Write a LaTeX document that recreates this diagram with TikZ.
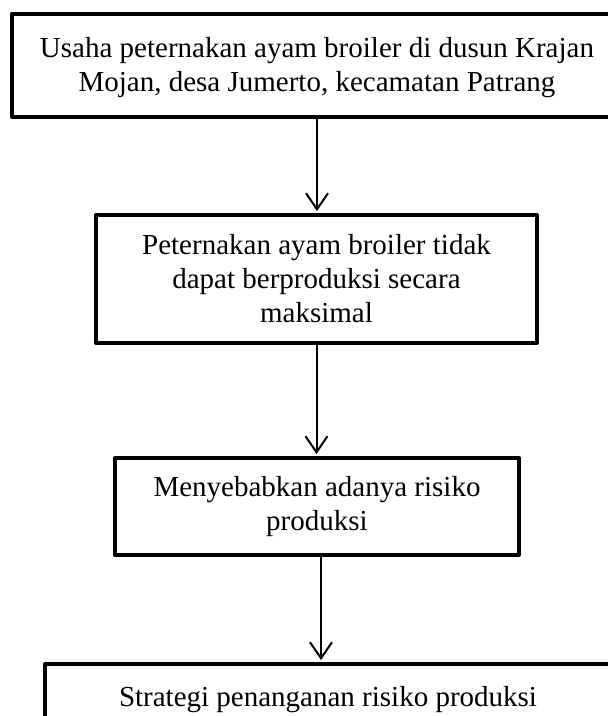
\documentclass[tikz,border=0pt]{standalone}
\usepackage{fontspec}
\setmainfont{Liberation Serif}
\usetikzlibrary{arrows.meta}
\tikzset{
  box/.style={draw=black, line width=4pt, line join=round, align=center,
    inner sep=0pt, font=\fontsize{29}{34}\selectfont},
  arr/.style={draw=black, line width=2pt, -{Straight Barb[length=16pt,width=22pt]}, shorten >=2pt}
}
\begin{document}
\begin{tikzpicture}[x=1pt,y=-1pt]
\useasboundingbox (0,0) rectangle (608,716);
\clip (0,0) rectangle (608,716);
\fill[white] (0,0) rectangle (608,716);
\node[box, minimum width=610pt, minimum height=103pt] (b1) at (317,65)
  {\rule{0pt}{26pt}Usaha peternakan ayam broiler di dusun Krajan\\Mojan, desa Jumerto, kecamatan Patrang};
\node[box, minimum width=441pt, minimum height=128pt] (b2) at (316.5,279)
  {Peternakan ayam broiler tidak\\dapat berproduksi secara\\maksimal};
\node[box, minimum width=404pt, minimum height=97pt] (b3) at (317,506.5)
  {Menyebabkan adanya risiko\\produksi};
\node[box, minimum width=566pt, inner ysep=22pt, anchor=north] (b4) at (328,662)
  {Strategi penanganan risiko produksi};
\draw[arr] (b1.south) -- (b1.south |- b2.north);
\draw[arr] (b2.south) -- (b2.south |- b3.north);
\draw[arr] ([xshift=4pt]b3.south) -- ([xshift=4pt]b3.south |- b4.north);
\end{tikzpicture}
\end{document}
